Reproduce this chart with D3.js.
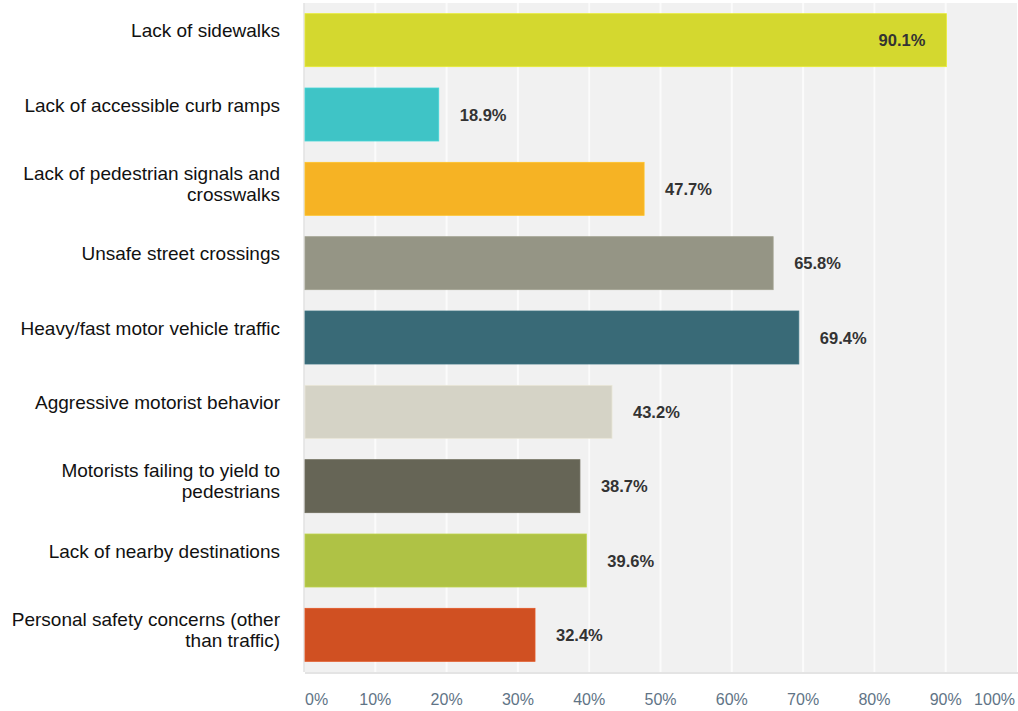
<!DOCTYPE html>
<html>
<head>
<meta charset="utf-8">
<script src="https://cdn.jsdelivr.net/npm/d3@7"></script>
<style>
  html, body { margin: 0; padding: 0; background: #fff; }
  svg { display: block; font-family: "Liberation Sans", Arial, sans-serif; }
</style>
</head>
<body>
<svg id="chart" width="1018" height="711"></svg>
<script>
// dati
const CATEGORIE = [
  ["Lack of sidewalks"],
  ["Lack of accessible curb ramps"],
  ["Lack of pedestrian signals and", "crosswalks"],
  ["Unsafe street crossings"],
  ["Heavy/fast motor vehicle traffic"],
  ["Aggressive motorist behavior"],
  ["Motorists failing to yield to", "pedestrians"],
  ["Lack of nearby destinations"],
  ["Personal safety concerns (other", "than traffic)"]
];
const VALORI = [90.1, 18.9, 47.7, 65.8, 69.4, 43.2, 38.7, 39.6, 32.4];
const COLORI = ["#d4d82f", "#3fc4c6", "#f6b324", "#959585", "#396a77",
                "#d5d3c6", "#666556", "#afc245", "#d05022"];
const TICKS  = [0, 10, 20, 30, 40, 50, 60, 70, 80, 90, 100];

const svg = d3.select("#chart");
const M = { left: 304, right: 1017, top: 3, bottom: 672 };

const x = d3.scaleLinear().domain([0, 100]).range([M.left, M.right]);
const y = d3.scaleBand()
  .domain(d3.range(VALORI.length))
  .range([M.top, M.bottom])
  .paddingInner(0.287)
  .paddingOuter(0.1435);

/* ── sfondo area grafico ── */
svg.append("rect")
  .attr("x", M.left + 1).attr("y", M.bottom)
  .attr("width", M.right - M.left).attr("height", 2)
  .attr("fill", "#e4e4e4");
svg.append("rect")
  .attr("x", M.left).attr("y", M.top)
  .attr("width", M.right - M.left).attr("height", M.bottom - M.top)
  .attr("fill", "#f1f1f1");
svg.append("line")
  .attr("x1", M.left).attr("x2", M.left)
  .attr("y1", M.top).attr("y2", M.bottom)
  .attr("stroke", "#e2e2e2").attr("stroke-width", 1.5);

// griglia verticale
svg.append("g")
  .selectAll("line")
  .data(TICKS.slice(1, -1))
  .join("line")
  .attr("x1", d => x(d)).attr("x2", d => x(d))
  .attr("y1", M.top).attr("y2", M.bottom)
  .attr("stroke", "#fbfbfb").attr("stroke-width", 2);

/* ── barre ── */
svg.append("g")
  .selectAll("rect")
  .data(VALORI)
  .join("rect")
  .attr("x", x(0) + 1)
  .attr("y", (d, i) => y(i))
  .attr("width", d => x(d) - x(0) - 1)
  .attr("height", y.bandwidth())
  .attr("fill", (d, i) => COLORI[i])
  .attr("stroke", (d, i) => d3.color(COLORI[i]).brighter(0.25))
  .attr("stroke-width", 0.8);

// etichette valori
svg.append("g")
  .selectAll("text")
  .data(VALORI)
  .join("text")
  .attr("x", d => d > 80 ? x(d) - 21 : x(d) + 21)
  .attr("y", (d, i) => y(i) + y.bandwidth() / 2 + 6)
  .attr("text-anchor", d => d > 80 ? "end" : "start")
  .attr("font-size", "16.5px")
  .attr("font-weight", "bold")
  .attr("fill", "#333")
  .text(d => d.toFixed(1) + "%");

/* ── etichette categorie ── */
const lab = svg.append("g")
  .selectAll("text")
  .data(CATEGORIE)
  .join("text")
  .attr("x", 280)
  .attr("y", (d, i) => y(i) + y.bandwidth() / 2 - 3)
  .attr("text-anchor", "end")
  .attr("font-size", "19px")
  .attr("fill", "#111");
lab.selectAll("tspan")
  .data(d => d)
  .join("tspan")
  .attr("x", 280)
  .attr("dy", (d, j) => j === 0 ? 0 : 21)
  .text(d => d);
lab.filter(d => d.length > 1)
  .attr("transform", "translate(0,-6)");

/* ── asse x ── */
svg.append("g")
  .selectAll("text")
  .data(TICKS)
  .join("text")
  .attr("x", d => d === 0 ? x(d) + 1 : d === 100 ? x(d) - 2 : x(d))
  .attr("y", 705)
  .attr("text-anchor", d => d === 0 ? "start" : d === 100 ? "end" : "middle")
  .attr("font-size", "16px")
  .attr("fill", "#5f7486")
  .text(d => d + "%");
</script>
</body>
</html>
